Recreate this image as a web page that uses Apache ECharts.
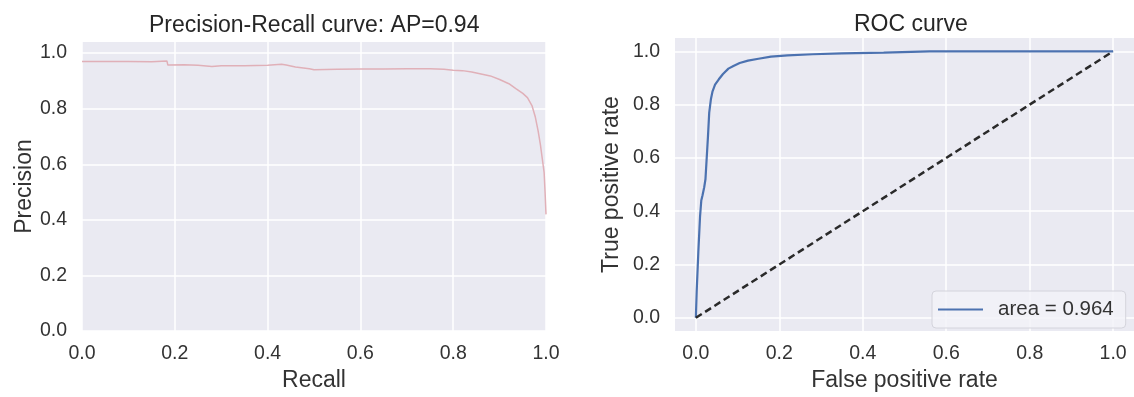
<!DOCTYPE html>
<html>
<head>
<meta charset="utf-8">
<script src="https://cdn.jsdelivr.net/npm/echarts@6/dist/echarts.min.js"></script>
<style>
  html, body { margin: 0; padding: 0; background: #fff; }
  #chart { width: 1134px; height: 397px; }
</style>
</head>
<body>
<div id="chart"></div>
<script>
// precision-recall curve
var prRecall = [0, 0.05, 0.10, 0.15, 0.183, 0.185, 0.22, 0.25, 0.28, 0.30, 0.35, 0.40, 0.43, 0.44, 0.46, 0.49, 0.50, 0.55, 0.60, 0.65, 0.70, 0.75, 0.78, 0.80, 0.82, 0.84, 0.86, 0.88, 0.90, 0.92, 0.935, 0.95, 0.96, 0.97, 0.977, 0.983, 0.988, 0.992, 0.996, 0.998, 1.0];
var prPrecision = [0.970, 0.970, 0.970, 0.969, 0.972, 0.957, 0.958, 0.956, 0.952, 0.955, 0.955, 0.956, 0.960, 0.957, 0.950, 0.944, 0.940, 0.942, 0.943, 0.943, 0.944, 0.944, 0.942, 0.938, 0.937, 0.932, 0.925, 0.918, 0.905, 0.890, 0.872, 0.855, 0.840, 0.810, 0.770, 0.720, 0.670, 0.620, 0.570, 0.500, 0.420];

// ROC curve
var rocFpr = [0, 0.002, 0.006, 0.010, 0.013, 0.016, 0.020, 0.023, 0.026, 0.029, 0.032, 0.036, 0.040, 0.046, 0.055, 0.065, 0.078, 0.090, 0.105, 0.125, 0.15, 0.18, 0.22, 0.28, 0.35, 0.45, 0.56, 0.70, 0.85, 1.0];
var rocTpr = [0, 0.10, 0.25, 0.38, 0.44, 0.46, 0.49, 0.52, 0.60, 0.68, 0.77, 0.82, 0.85, 0.875, 0.895, 0.915, 0.935, 0.945, 0.956, 0.965, 0.972, 0.980, 0.985, 0.989, 0.992, 0.995, 1.0, 1.0, 1.0, 1.0];

// chance diagonal
var diagX = [0, 1];
var diagY = [0, 1];

var tickValues = [0, 0.2, 0.4, 0.6, 0.8, 1.0];
var rocLegend = 'area = 0.964';

function zip(a, b) {
  return a.map(function (v, i) { return [v, b[i]]; });
}

var font = "'Liberation Sans', Arial, sans-serif";
var textColor = '#333';
var bg = '#EAEAF2';

function valueAxis(gridIndex, min, max, name, gap, isY) {
  return {
    type: 'value',
    gridIndex: gridIndex,
    min: min,
    max: max,
    name: name,
    nameLocation: 'middle',
    nameGap: gap,
    nameTextStyle: { fontFamily: font, fontSize: 23, color: textColor },
    axisLine: { show: false },
    axisTick: { show: false, customValues: tickValues },
    axisLabel: {
      customValues: tickValues,
      fontFamily: font,
      fontSize: 19.5,
      color: textColor,
      margin: isY ? 15 : 13,
      formatter: function (v) { return v.toFixed(1); }
    },
    splitLine: { show: true, lineStyle: { color: '#fff', width: 1.5 } }
  };
}

var myChart = echarts.init(document.getElementById('chart'));
var option = {
  animation: false,
  backgroundColor: '#fff',
  title: [
    {
      text: 'Precision-Recall curve: AP=0.94',
      left: 144, top: 9,
      textStyle: { fontFamily: font, fontSize: 23, fontWeight: 'normal', color: '#262626' }
    },
    {
      text: 'ROC curve',
      left: 849, top: 8,
      textStyle: { fontFamily: font, fontSize: 23, fontWeight: 'normal', color: '#262626' }
    }
  ],
  grid: [
    { left: 82, top: 42, width: 464, height: 297, show: true, backgroundColor: bg, borderWidth: 0 },
    { left: 675, top: 38, width: 463, height: 298, show: true, backgroundColor: bg, borderWidth: 0 }
  ],
  xAxis: [
    valueAxis(0, 0, 1, 'Recall', 35, false),
    valueAxis(1, -0.05, 1.05, 'False positive rate', 35, false)
  ],
  yAxis: [
    valueAxis(0, 0, 1.04, 'Precision', 46, true),
    valueAxis(1, -0.05, 1.05, 'True positive rate', 52, true)
  ],
  legend: {
    data: [{ name: rocLegend, icon: 'rect' }],
    left: 932,
    top: 291,
    padding: [8, 12, 8, 6],
    itemWidth: 45,
    itemHeight: 2,
    backgroundColor: 'rgba(242,242,248,0.85)',
    borderColor: '#d4d4dc',
    borderWidth: 1,
    borderRadius: 4,
    textStyle: { fontFamily: font, fontSize: 20.5, color: textColor, padding: [0, 0, 0, 10] }
  },
  series: [
    {
      name: 'pr',
      type: 'line',
      xAxisIndex: 0, yAxisIndex: 0,
      data: zip(prRecall, prPrecision),
      symbol: 'none',
      lineStyle: { color: '#E0B0B8', width: 1.5 },
      silent: true
    },
    {
      name: rocLegend,
      type: 'line',
      xAxisIndex: 1, yAxisIndex: 1,
      data: zip(rocFpr, rocTpr),
      symbol: 'none',
      itemStyle: { color: '#4C72B0' },
      lineStyle: { color: '#4C72B0', width: 2.2 },
      silent: true
    },
    {
      name: 'diag',
      type: 'line',
      xAxisIndex: 1, yAxisIndex: 1,
      data: zip(diagX, diagY),
      symbol: 'none',
      lineStyle: { color: '#2a2a2a', width: 2.5, type: [7, 4] },
      silent: true
    }
  ]
};
myChart.setOption(option);
</script>
</body>
</html>
